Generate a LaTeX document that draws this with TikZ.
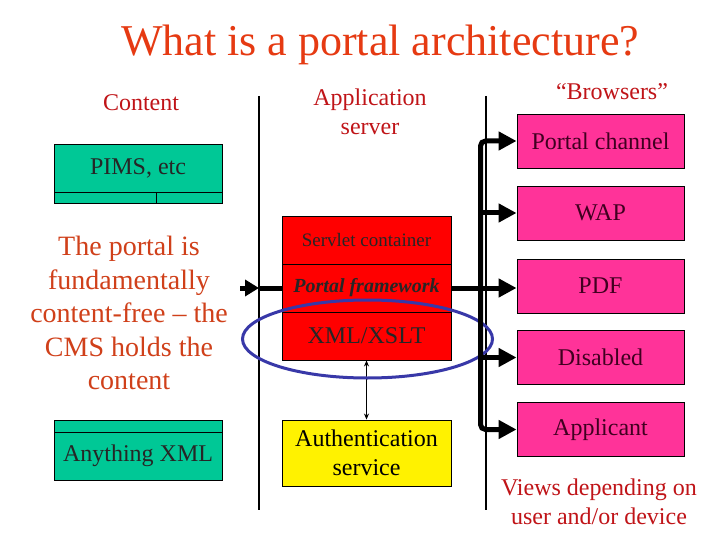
\documentclass[tikz,border=0pt]{standalone}
\usepackage{fontspec}
\setmainfont{Liberation Serif}
\usetikzlibrary{arrows.meta}
\definecolor{titlec}{RGB}{230,58,18}
\definecolor{headc}{RGB}{192,20,24}
\definecolor{leftc}{RGB}{208,64,26}
\definecolor{tealc}{RGB}{0,200,150}
\definecolor{pinkc}{RGB}{255,51,153}
\definecolor{pinktxt}{RGB}{64,0,32}
\definecolor{ellc}{RGB}{56,56,168}
\tikzset{
  box/.style={draw=black, line width=0.9pt, inner sep=0pt, anchor=center},
  tealbox/.style={box, fill=tealc, text=black!85},
  redbox/.style={box, fill=red, text=black!85, minimum width=169pt, minimum height=48pt},
  pinkbox/.style={box, fill=pinkc, text=pinktxt, minimum width=167pt, minimum height=54pt, font=\fontsize{24}{29}\selectfont},
  bus/.style={line width=5pt, -{Triangle[length=18pt,width=18pt]}},
  thinline/.style={line width=1.2pt},
}
\begin{document}
\begin{tikzpicture}[x=1pt,y=-1pt]
\useasboundingbox[fill=white] (0,0) rectangle (720,540);
% title and headers
\node[text=titlec, font=\fontsize{44}{53}\selectfont] (title) at (380,45) {What is a portal architecture?};
\node[text=headc, font=\fontsize{24}{29}\selectfont] (hcontent) at (141,103) {Content};
\node[text=headc, font=\fontsize{24}{29}\selectfont, align=center] (happ) at (370,112) {Application\\server};
\node[text=headc, font=\fontsize{24}{29}\selectfont] (hbrow) at (612,92) {“Browsers”};
% separators
\coordinate (s1t) at (259,96); \coordinate (s1b) at (259,510);
\coordinate (s2t) at (486,96); \coordinate (s2b) at (486,510);
\draw[thinline] (s1t) -- (s1b);
\draw[thinline] (s2t) -- (s2b);
% content column
\node[tealbox, minimum width=168pt, minimum height=48pt, font=\fontsize{24}{29}\selectfont] (pims) at (138,168) {PIMS, etc};
\node[tealbox, minimum width=102pt, minimum height=11pt] (pimsa) at (105,197.5) {};
\node[tealbox, minimum width=66pt, minimum height=11pt] (pimsb) at (189,197.5) {};
\node[text=leftc, font=\fontsize{28}{33.5}\selectfont, align=center] (note) at (129,313) {The portal is\\fundamentally\\content-free – the\\CMS holds the\\content};
\node[tealbox, minimum width=168pt, minimum height=12pt] (axa) at (138,426) {};
\node[tealbox, minimum width=168pt, minimum height=48pt, font=\fontsize{24}{29}\selectfont] (ax) at (138,456) {Anything XML};
% application server column
\node[redbox, font=\fontsize{19}{23}\selectfont] (sc) at (366.5,240) {Servlet container};
\node[redbox, font=\fontsize{20}{24}\selectfont\bfseries\itshape] (pf) at (366.5,288) {Portal framework};
\node[redbox, font=\fontsize{24}{29}\selectfont] (xs) at (366.5,336) {XML/XSLT};
\node[box, fill=yellow, text=black, minimum width=169pt, minimum height=66pt, align=center, font=\fontsize{24}{29}\selectfont] (au) at (366.5,453) {Authentication\\service};
\draw[line width=1.5pt, {Stealth[length=6pt,width=5pt]}-{Stealth[length=6pt,width=5pt]}] (xs.south) -- (au.north);
% browsers column
\node[pinkbox] (pc) at (600.5,141) {Portal channel};
\node[pinkbox] (wap) at (600.5,213) {WAP};
\node[pinkbox] (pdf) at (600.5,286) {PDF};
\node[pinkbox] (dis) at (600.5,357.5) {Disabled};
\node[pinkbox] (appl) at (600.5,429.5) {Applicant};
\node[text=headc, font=\fontsize{24}{29}\selectfont, align=center] (views) at (599,502) {Views depending on\\user and/or device};
% ellipse
\draw[ellc, line width=3pt] (367.5,339) ellipse [x radius=125, y radius=39];
% bus
\coordinate (bt) at (480.5,141);
\coordinate (bb) at (480.5,429.5);
\coordinate (bw) at (480.5,213);
\coordinate (bd) at (480.5,357.5);
\draw[bus, {Triangle[length=18pt,width=18pt]}-{Triangle[length=18pt,width=18pt]}, rounded corners=5pt] (pc.west) -- (bt) -- (bb) -- (appl.west);
\draw[bus] (bw) -- (wap.west);
\draw[bus] (bd) -- (dis.west);
\draw[bus] (pf.east) -- (pf.east -| pdf.west);
% left arrow
\coordinate (la) at (240,288);
\coordinate (lb) at (259,288);
\draw[bus, -{Triangle[length=14pt,width=16pt]}] (la) -- (lb);
\draw[line width=5pt] (lb) -- (pf.west);
\end{tikzpicture}
\end{document}
